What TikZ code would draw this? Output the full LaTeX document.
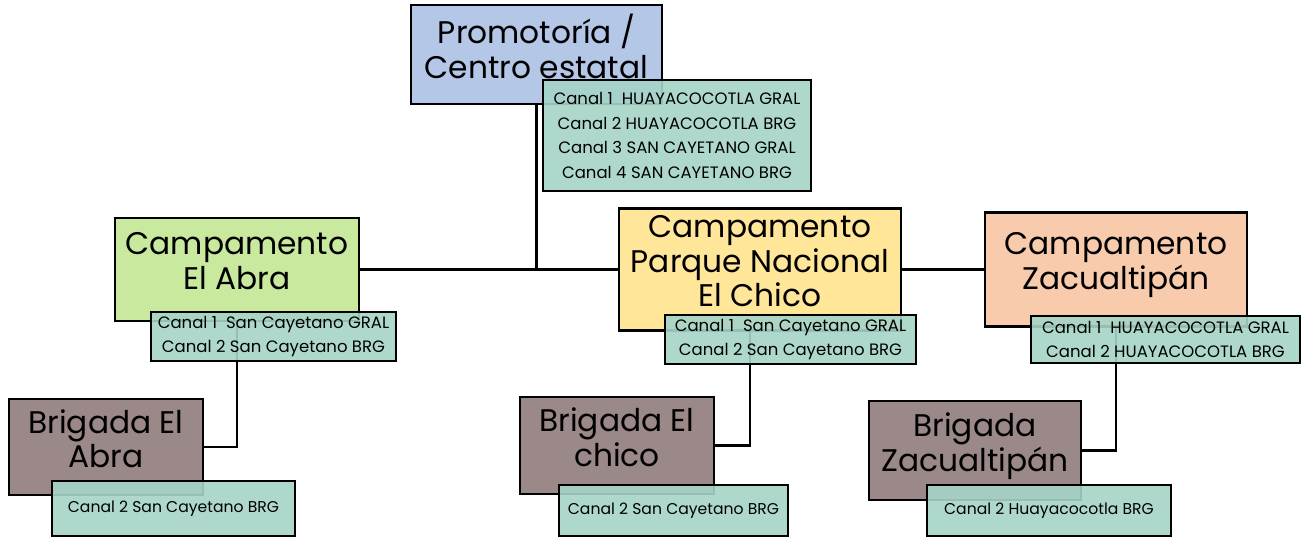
\documentclass[tikz,border=0pt]{standalone}
\usepackage{fontspec}
\setmainfont{Poppins}
\usetikzlibrary{positioning,calc}
\definecolor{promblue}{HTML}{B4C7E7}
\definecolor{abragreen}{HTML}{C9E99E}
\definecolor{chicoyellow}{HTML}{FFE699}
\definecolor{zacpeach}{HTML}{F8CBAD}
\definecolor{brigbrown}{HTML}{9B8888}
\definecolor{chanteal}{HTML}{A6D4C8}
\tikzset{
  mainbox/.style={draw=black, line width=1.5pt, align=center, inner sep=0pt,
    text depth=0.34cm, font=\fontsize{17.8}{19.8}\selectfont},
  chanbox/.style={draw=black, line width=1.5pt, align=center, inner sep=0pt,
    fill=chanteal, fill opacity=0.9, text opacity=1,
    font=\fontsize{9.4}{13.9}\selectfont},
  link/.style={line width=1.5pt}
}

\begin{document}
\begin{tikzpicture}[x=0.02cm,y=-0.02cm]
\useasboundingbox (0,0) rectangle (1302,538);

% nivel estatal
\node [mainbox, fill=promblue, minimum width=5.02cm, minimum height=1.98cm] (prom) at (536.5,54.5) {Promotoría /\\Centro estatal};

% campamentos
\node [mainbox, fill=abragreen, minimum width=4.88cm, minimum height=2.06cm] (abra) at (237,269.5) {Campamento\\El Abra};
\node [mainbox, fill=chicoyellow, minimum width=5.64cm, minimum height=2.44cm] (chico) at (760,269.5) {Campamento\\Parque Nacional\\El Chico};
\node [mainbox, fill=zacpeach, minimum width=5.24cm, minimum height=2.28cm] (zac) at (1116,269.5) {Campamento\\Zacualtipán};

% brigadas
\node [mainbox, fill=brigbrown, minimum width=3.88cm, minimum height=1.92cm] (brigA) at (106,447) {Brigada El\\Abra};
\node [mainbox, fill=brigbrown, minimum width=3.88cm, minimum height=1.94cm] (brigC) at (617,445.5) {Brigada El\\chico};
\node [mainbox, fill=brigbrown, minimum width=4.24cm, minimum height=1.98cm] (brigZ) at (975,450.5) {Brigada\\Zacualtipán};

% lineas
\draw [link] (abra.east) -- (chico.west);
\draw [link] (chico.east) -- (zac.west);
\draw [link] (prom.south) -- (prom.south |- abra.east);
\draw [link] (abra.south) |- (brigA.east);
\draw [link] ([xshift=-0.2cm]chico.south) |- (brigC.east);
\draw [link] (zac.south) |- (brigZ.east);

% canales de radio
\node [chanbox, minimum width=5.36cm, minimum height=2.22cm] (promCh) at (677,135.5) {Canal 1\ \ HUAYACOCOTLA GRAL\\Canal 2 HUAYACOCOTLA BRG\\Canal 3 SAN CAYETANO GRAL\\Canal 4 SAN CAYETANO BRG};
\node [chanbox, minimum width=4.9cm, minimum height=0.98cm] (abraCh) at (273.5,336.5) {Canal 1\ \ San Cayetano GRAL\\Canal 2 San Cayetano BRG};
\node [chanbox, minimum width=5.02cm, minimum height=0.98cm] (chicoCh) at (790.5,339.5) {Canal 1\ \ San Cayetano GRAL\\Canal 2 San Cayetano BRG};
\node [chanbox, minimum width=5.38cm, minimum height=0.94cm] (zacCh) at (1165.5,339.5) {Canal 1\ \ HUAYACOCOTLA GRAL\\Canal 2 HUAYACOCOTLA BRG};
\node [chanbox, font=\fontsize{8.9}{13.9}\selectfont, minimum width=4.86cm, minimum height=1.1cm] (brigACh) at (173.5,508.5) {Canal 2 San Cayetano BRG};
\node [chanbox, font=\fontsize{8.9}{13.9}\selectfont, minimum width=4.58cm, minimum height=1.02cm] (brigCCh) at (673.5,510.5) {Canal 2 San Cayetano BRG};
\node [chanbox, font=\fontsize{8.9}{13.9}\selectfont, minimum width=4.88cm, minimum height=1.02cm] (brigZCh) at (1049,510.5) {Canal 2 Huayacocotla BRG};
\end{tikzpicture}
\end{document}
